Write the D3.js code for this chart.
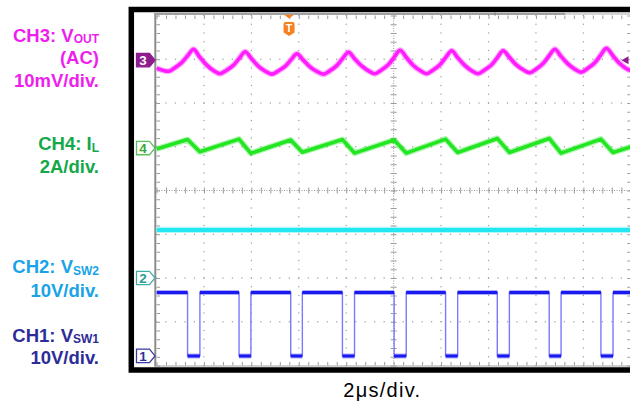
<!DOCTYPE html>
<html><head><meta charset="utf-8">
<script src="https://cdn.jsdelivr.net/npm/d3@7"></script>
<style>html,body{margin:0;padding:0;background:#fff;}svg{display:block;}</style>
</head><body>
<svg id="chart" width="630" height="404"></svg>
<script>
// ---------------- data (read from the scope capture) ----------------
const timeDomainUs = [0, 20];          // 10 div x 2 us/div
const gridDivsX = 10, gridDivsY = 8;
const timeBaseLabel = "2μs/div.";
const triggerUs = 5.59;

// CH3: VOUT (AC), mV
const ch3Vout = [
  [0,-1.85],[0.52,-2.53],[0.76,-1.78],[1.05,-0.62],[1.31,0.98],[1.56,2.48],
  [1.81,0.81],[2.11,-1.09],[2.40,-2.37],[2.68,-3.10],[2.94,-2.35],[3.24,-1.19],[3.49,0.41],[3.74,1.91],
  [4.00,0.38],[4.29,-1.37],[4.59,-2.55],[4.86,-3.21],[5.12,-2.51],[5.42,-1.44],[5.67,0.06],[5.92,1.46],
  [6.18,0.06],[6.47,-1.53],[6.77,-2.60],[7.04,-3.21],[7.30,-2.46],[7.59,-1.30],[7.84,0.30],[8.10,1.80],
  [8.35,0.33],[8.65,-1.34],[8.94,-2.46],[9.21,-3.10],[9.47,-2.30],[9.77,-1.07],[10.02,0.65],[10.27,2.26],
  [10.53,0.65],[10.82,-1.16],[11.12,-2.39],[11.39,-3.10],[11.65,-2.30],[11.94,-1.12],[12.19,0.57],[12.45,2.14],
  [12.70,0.57],[13.00,-1.21],[13.29,-2.42],[13.56,-3.10],[13.82,-2.30],[14.12,-1.12],[14.37,0.57],[14.62,2.14],
  [14.88,0.64],[15.17,-1.07],[15.47,-2.21],[15.74,-2.87],[16.00,-2.07],[16.29,-0.84],[16.54,0.88],[16.80,2.48],
  [17.05,0.91],[17.35,-0.87],[17.64,-2.07],[17.91,-2.76],[18.17,-1.94],[18.47,-0.68],[18.72,1.07],[18.97,2.71],
  [19.23,1.12],[19.52,-0.71],[19.82,-1.96],[20,-2.42]
];

// CH4: IL, A
const ch4IL = [
  [0,-0.04],[1.31,0.39],[1.83,-0.17],[3.48,0.41],[3.98,-0.24],[5.66,0.37],[6.15,-0.19],
  [7.84,0.39],[8.35,-0.23],[10.02,0.37],[10.53,-0.23],[12.19,0.41],[12.70,-0.20],
  [14.37,0.44],[14.88,-0.20],[16.56,0.44],[17.06,-0.23],[18.74,0.41],[19.25,-0.20],[20,0.05]
];

// CH2: VSW2, V
const ch2Vsw2 = [[0,11.0],[20,11.0]];

// CH1: VSW1, V
const ch1FallUs = [1.31,3.48,5.66,7.84,10.02,12.19,14.37,16.56,18.74];
const ch1RiseUs = [1.83,3.98,6.15,8.35,10.53,12.70,14.88,17.06,19.25];
const ch1HighV = 14.5, ch1LowV = 0;

// channel scale (units/div) and ground offset (div)
const channelIds     = ["3", "4", "2", "1"];
const channelScales  = [10, 2, 10, 10];
const channelOffsets = [2.98, 0.97, -2, -3.78];

const ch3Label = [[["CH3: V",0],["OUT",1]], [["(AC)",0]], [["10mV/div.",0]]];
const ch4Label = [[["CH4: I",0],["L",1]], [["2A/div.",0]]];
const ch2Label = [[["CH2: V",0],["SW2",1]], [["10V/div.",0]]];
const ch1Label = [[["CH1: V",0],["SW1",1]], [["10V/div.",0]]];

// ---------------- drawing ----------------
const svg = d3.select("#chart");
const PX = {left:156.5, right:630.8, top:15.5, bottom:365.5};
const x = d3.scaleLinear().domain(timeDomainUs).range([PX.left, PX.right]);
const y = d3.scaleLinear().domain([-gridDivsY/2, gridDivsY/2]).range([PX.bottom, PX.top]);
const usPerDiv = (timeDomainUs[1]-timeDomainUs[0]) / gridDivsX;
const chans = channelIds.map((id,i)=>({id, scale:channelScales[i], offset:channelOffsets[i]}));
const chY = ch => v => y(ch.offset + v / ch.scale);
const [C3, C4, C2, C1] = chans;

const FONT = "'Liberation Sans', Arial, Helvetica, sans-serif";
const GRID = "#9a9a9a";

// black frame
svg.append("rect").attr("x",131.3).attr("y",9.5).attr("width",620).attr("height",360.5)
  .attr("fill","#fff").attr("stroke","#000").attr("stroke-width",5.5);

const grid = svg.append("g");
const minorT = d3.range(0, timeDomainUs[1] + 1e-6, usPerDiv/5);
const minorD = d3.range(-gridDivsY/2, gridDivsY/2 + 1e-6, 0.2);
const majorT = d3.range(1, gridDivsX).map(k => k*usPerDiv).filter(t => Math.abs(t - 10) > 1e-6);
const majorD = [-3,-2,-1,1,2,3];

// dotted grid
grid.selectAll("rect.vd").data(d3.cross(majorT, minorD)).join("rect").attr("class","vd")
  .attr("x", d => x(d[0]) - 0.6).attr("y", d => y(d[1]) - 0.6).attr("width",1.2).attr("height",1.2).attr("fill",GRID);
grid.selectAll("rect.hd").data(d3.cross(minorT, majorD)).join("rect").attr("class","hd")
  .attr("x", d => x(d[0]) - 0.6).attr("y", d => y(d[1]) - 0.6).attr("width",1.2).attr("height",1.2).attr("fill",GRID);

const tickStyle = g => { g.select(".domain").remove(); g.selectAll("text").remove(); g.selectAll("line").attr("stroke",GRID).attr("stroke-width",1); };
// edge ticks
grid.append("g").attr("transform",`translate(0,${PX.top})`).call(d3.axisBottom(x).tickValues(minorT).tickSize(3.5).tickFormat("")).call(tickStyle);
grid.append("g").attr("transform",`translate(0,${PX.bottom})`).call(d3.axisTop(x).tickValues(minorT).tickSize(3.5).tickFormat("")).call(tickStyle);
grid.append("g").attr("transform",`translate(${PX.left},0)`).call(d3.axisRight(y).tickValues(minorD).tickSize(3.5).tickFormat("")).call(tickStyle);
grid.append("g").attr("transform",`translate(${PX.right},0)`).call(d3.axisLeft(y).tickValues(minorD).tickSize(3.5).tickFormat("")).call(tickStyle);
// center cross
const cy0 = y(0), cx0 = x(10);
grid.append("line").attr("x1",PX.left).attr("x2",PX.right).attr("y1",cy0).attr("y2",cy0)
  .attr("stroke",GRID).attr("stroke-dasharray","1,1.5");
grid.append("line").attr("x1",cx0).attr("x2",cx0).attr("y1",PX.top).attr("y2",PX.bottom)
  .attr("stroke",GRID).attr("stroke-dasharray","1,1.5");
grid.append("g").attr("transform",`translate(0,${cy0})`).call(d3.axisBottom(x).tickValues(minorT).tickSize(3).tickFormat("")).call(tickStyle);
grid.append("g").attr("transform",`translate(0,${cy0})`).call(d3.axisTop(x).tickValues(minorT).tickSize(3).tickFormat("")).call(tickStyle);
grid.append("g").attr("transform",`translate(${cx0},0)`).call(d3.axisRight(y).tickValues(minorD).tickSize(3).tickFormat("")).call(tickStyle);
grid.append("g").attr("transform",`translate(${cx0},0)`).call(d3.axisLeft(y).tickValues(minorD).tickSize(3).tickFormat("")).call(tickStyle);

// borders
grid.append("line").attr("x1",155.3).attr("x2",155.3).attr("y1",13.5).attr("y2",366.5).attr("stroke","#8c8c8c").attr("stroke-width",2);
grid.append("line").attr("x1",154).attr("x2",565).attr("y1",14).attr("y2",14).attr("stroke","#a0a0a0").attr("stroke-width",2);
grid.append("line").attr("x1",565).attr("x2",631).attr("y1",14).attr("y2",14).attr("stroke","#d4d4d4").attr("stroke-width",2);
grid.append("line").attr("x1",495).attr("x2",495).attr("y1",12.5).attr("y2",15.5).attr("stroke","#888").attr("stroke-width",1.5);
grid.append("line").attr("x1",154).attr("x2",631).attr("y1",366).attr("y2",366).attr("stroke","#a0a0a0").attr("stroke-width",1.2);

// traces
svg.append("clipPath").attr("id","plotclip").append("rect")
  .attr("x",PX.left).attr("y",PX.top).attr("width",PX.right-PX.left).attr("height",PX.bottom-PX.top);
const traces = svg.append("g").attr("clip-path","url(#plotclip)");

function drawTrace(data, ch, color, w, curve) {
  const line = d3.line().x(d => x(d[0])).y(d => chY(ch)(d[1])).curve(curve || d3.curveLinear);
  traces.append("path").attr("d", line(data)).attr("fill","none").attr("stroke",color)
    .attr("stroke-width", w + 2.4).attr("stroke-opacity",0.35).attr("stroke-linejoin","round");
  traces.append("path").attr("d", line(data)).attr("fill","none").attr("stroke",color)
    .attr("stroke-width", w).attr("stroke-linejoin","round");
}

// CH2 cyan
drawTrace(ch2Vsw2, C2, "#22e6f2", 4);

// CH1 blue: thin edges + thick levels
const ch1Path = [[timeDomainUs[0], ch1HighV]];
ch1FallUs.forEach((f,i) => { ch1Path.push([f,ch1HighV],[f,ch1LowV],[ch1RiseUs[i],ch1LowV],[ch1RiseUs[i],ch1HighV]); });
ch1Path.push([timeDomainUs[1], ch1HighV]);
const l1 = d3.line().x(d => x(d[0])).y(d => chY(C1)(d[1]));
traces.append("path").attr("d", l1(ch1Path)).attr("fill","none").attr("stroke","#7a7aff").attr("stroke-width",1.4);
const highSegs = [[timeDomainUs[0], ch1FallUs[0]]].concat(ch1RiseUs.map((r,i) => [r, i+1 < ch1FallUs.length ? ch1FallUs[i+1] : timeDomainUs[1]]));
const lowSegs = ch1FallUs.map((f,i) => [f, ch1RiseUs[i]]);
[[highSegs, ch1HighV],[lowSegs, ch1LowV]].forEach(([segs, lv]) => {
  segs.forEach(s => {
    const d = l1([[s[0],lv],[s[1],lv]]);
    traces.append("path").attr("d", d).attr("stroke","#1a1af0").attr("stroke-width",5).attr("stroke-opacity",0.35);
    traces.append("path").attr("d", d).attr("stroke","#1a1af0").attr("stroke-width",3);
  });
});

// CH4 green
drawTrace(ch4IL, C4, "#22e622", 3.6);
// CH3 magenta
drawTrace(ch3Vout, C3, "#ff1cff", 3.6, d3.curveCatmullRom.alpha(0.5));

// channel markers
const markerPath = cy => `M136.5,${cy-6.7} L149.5,${cy-6.7} L155,${cy} L149.5,${cy+6.7} L136.5,${cy+6.7} Z`;
const markerStyle = {
  "3": {fill:"#8e1c8e", stroke:"#8e1c8e", text:"#fff"},
  "4": {fill:"#fff", stroke:"#5cc05c", text:"#3aa83a"},
  "2": {fill:"#fff", stroke:"#3fb0a8", text:"#2a9c94"},
  "1": {fill:"#fff", stroke:"#3a3aa8", text:"#2e2e9a"}
};
chans.forEach(ch => {
  const cy = chY(ch)(0), st = markerStyle[ch.id];
  svg.append("path").attr("d", markerPath(cy)).attr("fill",st.fill).attr("stroke",st.stroke).attr("stroke-width",1.3);
  svg.append("text").attr("x",143).attr("y",cy+4.8).attr("text-anchor","middle")
    .attr("font-family",FONT).attr("font-weight","bold").attr("font-size",13.5).attr("fill",st.text).text(ch.id);
});
// right ch3 arrow
{
  const cy = chY(C3)(0);
  svg.append("path").attr("d",`M628.5,${cy-4} L621.5,${cy} L628.5,${cy+4} Z`).attr("fill","#8e1c8e");
}

// trigger marker
{
  const tx = x(triggerUs);
  svg.append("path").attr("d",`M${tx-5},14.8 L${tx+5},14.8 L${tx},18.5 Z`).attr("fill","#f5821f");
  svg.append("path").attr("d",`M${tx-5.5},24 Q${tx-5.5},22 ${tx-3.5},22 L${tx+3.5},22 Q${tx+5.5},22 ${tx+5.5},24 L${tx+5.5},32.5 L${tx},36 L${tx-5.5},32.5 Z`).attr("fill","#f5821f");
  svg.append("text").attr("x",tx).attr("y",32).attr("text-anchor","middle").attr("font-family",FONT)
    .attr("font-weight","bold").attr("font-size",10.5).attr("fill","#fff").text("T");
}

// left labels
const labelBlocks = [
  {lines: ch3Label, color:"#ee1eee", baselines:[41.7, 64.3, 87]},
  {lines: ch4Label, color:"#14a84b", baselines:[150, 172.7]},
  {lines: ch2Label, color:"#1aa3e8", baselines:[273.3, 296.7]},
  {lines: ch1Label, color:"#2d2d9a", baselines:[341.7, 364.3]}
];
labelBlocks.forEach(b => {
  b.lines.forEach((parts, i) => {
    const t = svg.append("text").attr("x",99).attr("y",b.baselines[i]).attr("text-anchor","end")
      .attr("font-family",FONT).attr("font-weight","bold").attr("fill",b.color);
    parts.forEach(([s, sub]) => {
      const sp = t.append("tspan").text(s).attr("font-size", sub ? 12 : 18.5);
      if (sub) sp.attr("dy", 1.5);
    });
  });
});

// time base label
svg.append("text").attr("x",343.3).attr("y",397.3).attr("font-family",FONT).attr("font-size",20)
  .attr("fill","#000").attr("textLength",76.7).attr("lengthAdjust","spacing").text(timeBaseLabel);
</script>
</body></html>
